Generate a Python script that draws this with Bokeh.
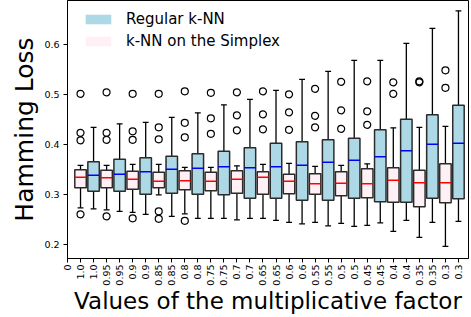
import numpy as np
from bokeh.plotting import figure
from bokeh.models import ColumnDataSource, FixedTicker, Range1d, Legend, LegendItem
from bokeh.embed import file_html
from bokeh.resources import INLINE

# ---------------- data ----------------
factor_labels = ["1.0", "0.95", "0.9", "0.85", "0.8", "0.75", "0.7", "0.65",
                 "0.6", "0.55", "0.5", "0.45", "0.4", "0.35", "0.3"]

# Regular k-NN (light blue boxes)
reg_low  = [0.272, 0.267, 0.261, 0.257, 0.253, 0.253, 0.253, 0.249, 0.242, 0.238, 0.237, 0.244, 0.249, 0.245, 0.247]
reg_q1   = [0.307, 0.307, 0.301, 0.303, 0.301, 0.300, 0.293, 0.293, 0.289, 0.289, 0.293, 0.286, 0.285, 0.293, 0.292]
reg_med  = [0.339, 0.341, 0.346, 0.351, 0.353, 0.356, 0.354, 0.356, 0.359, 0.365, 0.369, 0.376, 0.388, 0.401, 0.403]
reg_q3   = [0.366, 0.371, 0.374, 0.377, 0.382, 0.387, 0.394, 0.403, 0.406, 0.410, 0.413, 0.430, 0.451, 0.460, 0.479]
reg_high = [0.435, 0.442, 0.445, 0.455, 0.464, 0.480, 0.491, 0.509, 0.531, 0.547, 0.569, 0.569, 0.603, 0.633, 0.668]

# k-NN on the Simplex (pink boxes)
smp_low  = [0.274, 0.270, 0.265, 0.300, 0.262, 0.253, 0.250, 0.253, 0.245, 0.245, 0.243, 0.239, 0.227, 0.215, 0.197]
smp_q1   = [0.314, 0.314, 0.311, 0.314, 0.310, 0.308, 0.303, 0.301, 0.302, 0.301, 0.298, 0.294, 0.285, 0.276, 0.284]
smp_med  = [0.335, 0.334, 0.331, 0.327, 0.328, 0.327, 0.331, 0.335, 0.327, 0.322, 0.323, 0.322, 0.329, 0.324, 0.324]
smp_q3   = [0.350, 0.349, 0.347, 0.345, 0.348, 0.345, 0.348, 0.346, 0.341, 0.342, 0.346, 0.352, 0.354, 0.349, 0.362]
smp_high = [0.359, 0.359, 0.361, 0.361, 0.355, 0.355, 0.358, 0.361, 0.363, 0.357, 0.359, 0.362, 0.434, 0.435, 0.437]
smp_outliers = [
    [0.502, 0.424, 0.409, 0.261],
    [0.505, 0.424, 0.410, 0.257],
    [0.502, 0.427, 0.410, 0.253],
    [0.502, 0.435, 0.411, 0.267, 0.252],
    [0.507, 0.444, 0.415, 0.248],
    [0.504, 0.453, 0.422],
    [0.505, 0.459, 0.429],
    [0.507, 0.461, 0.431],
    [0.501, 0.465, 0.430],
    [0.512, 0.458, 0.435],
    [0.526, 0.469, 0.432],
    [0.527, 0.467, 0.440],
    [0.525, 0.502],
    [0.525, 0.527],
    [0.549, 0.514],
]

tick_labels = ["0"] + [lab for lab in factor_labels for _ in range(2)]
x_title = "Values of the multiplicative factor"
y_title = "Hamming Loss"

# ---------------- layout ----------------
n = len(factor_labels)
smp_pos = [2 * i + 1 for i in range(n)]
reg_pos = [2 * i + 2 for i in range(n)]
BOX_W = 0.88
CAP_W = 0.45
EDGE = "#2b2b2b"

p = figure(width=471, height=317,
           x_range=Range1d(0, 30.77), y_range=Range1d(0.1726, 0.6886),
           output_backend="svg", toolbar_location=None,
           min_border_left=67, min_border_right=3, min_border_top=0, min_border_bottom=59)
p.background_fill_color = "white"
p.border_fill_color = "white"
p.outline_line_color = "black"
p.outline_line_width = 1
p.xgrid.visible = False
p.ygrid.visible = False


def draw_series(pos, low, q1, med, q3, high, fill, med_color):
    src = ColumnDataSource(dict(x=pos, low=low, q1=q1, med=med, q3=q3, high=high,
                                cl=[x - CAP_W / 2 for x in pos], cr=[x + CAP_W / 2 for x in pos],
                                bl=[x - BOX_W / 2 for x in pos], br=[x + BOX_W / 2 for x in pos]))
    # whiskers
    p.segment(x0="x", y0="q3", x1="x", y1="high", source=src, line_color="black", line_width=1.3)
    p.segment(x0="x", y0="low", x1="x", y1="q1", source=src, line_color="black", line_width=1.3)
    # caps
    p.segment(x0="cl", y0="high", x1="cr", y1="high", source=src, line_color="black", line_width=1.3)
    p.segment(x0="cl", y0="low", x1="cr", y1="low", source=src, line_color="black", line_width=1.3)
    # box fill and edge
    fill_r = p.vbar(x="x", width=BOX_W, bottom="q1", top="q3", source=src,
                    fill_color=fill, line_alpha=0)
    p.vbar(x="x", width=BOX_W, bottom="q1", top="q3", source=src,
           fill_alpha=0, line_color=EDGE, line_width=1.5)
    # median
    p.segment(x0="bl", y0="med", x1="br", y1="med", source=src, line_color=med_color, line_width=1.5)
    return fill_r


r_reg = draw_series(reg_pos, reg_low, reg_q1, reg_med, reg_q3, reg_high, "#add8e6", "#0000ff")
r_smp = draw_series(smp_pos, smp_low, smp_q1, smp_med, smp_q3, smp_high, "#fff0f5", "#ff0000")

ox = [pos for pos, outs in zip(smp_pos, smp_outliers) for _ in outs]
oy = [v for outs in smp_outliers for v in outs]
p.scatter(ox, oy, marker="circle", size=7, fill_alpha=0, line_color="black", line_width=1.2)

# ---------------- axes ----------------
FONT = "DejaVu Sans"
p.xaxis.ticker = FixedTicker(ticks=list(range(len(tick_labels))))
p.xaxis.major_label_overrides = {i: lab for i, lab in enumerate(tick_labels)}
p.xaxis.major_label_orientation = np.pi / 2
p.yaxis.ticker = FixedTicker(ticks=[0.2, 0.3, 0.4, 0.5, 0.6])
for ax in (p.xaxis, p.yaxis):
    ax.minor_tick_line_color = None
    ax.major_tick_in = 0
    ax.major_tick_out = 4
    ax.major_tick_line_color = "black"
    ax.axis_line_color = "black"
    ax.major_label_text_font = FONT
    ax.major_label_text_font_size = "9.5px"
    ax.major_label_text_color = "black"
    ax.axis_label_text_font = FONT
    ax.axis_label_text_font_style = "normal"
    ax.axis_label_text_color = "black"
p.xaxis.axis_label_text_font_size = "23px"
p.yaxis.axis_label_text_font_size = "25px"
p.xaxis.major_label_standoff = 2
p.xaxis.axis_label_standoff = -1
p.yaxis.major_label_standoff = 4
p.yaxis.axis_label_standoff = 2
p.xaxis.axis_label = x_title
p.yaxis.axis_label = y_title

# ---------------- legend ----------------
legend = Legend(items=[LegendItem(label="Regular k-NN", renderers=[r_reg]),
                       LegendItem(label="k-NN on the Simplex", renderers=[r_smp])],
                location=(15, 208), orientation="vertical",
                glyph_width=32, glyph_height=12, label_height=12,
                label_standoff=12, spacing=4, padding=0, margin=0,
                label_text_font=FONT, label_text_font_size="15px", label_text_color="black",
                background_fill_alpha=0, border_line_alpha=0)
p.add_layout(legend)

open("out.html", "w").write(file_html(p, INLINE))
